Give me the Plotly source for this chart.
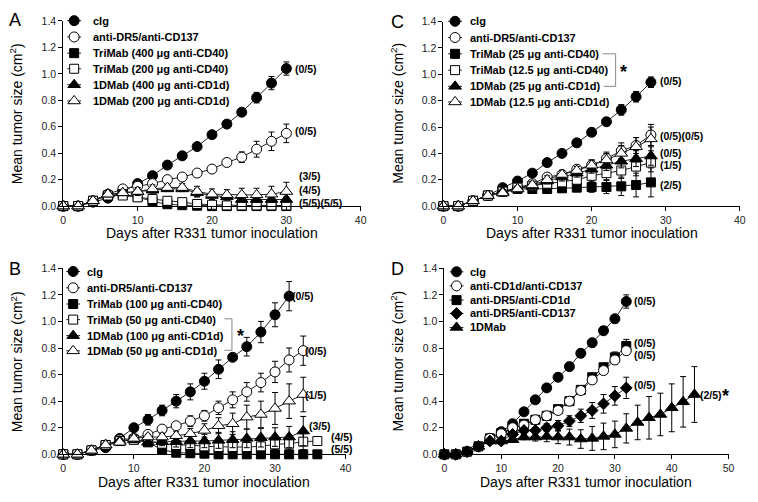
import plotly.graph_objects as go

W, H = 758, 502
FONT = "Arial, Liberation Sans, sans-serif"

# ---------------- data ----------------
# Panel A
days_A = list(range(0, 31, 2))
A_clg = [0, 0, 0.03, 0.06, 0.11, 0.17, 0.23, 0.31, 0.38, 0.45, 0.54, 0.62, 0.71, 0.82, 0.93, 1.04]
A_clg_err = [0, 0, 0.01, 0.01, 0.01, 0.02, 0.02, 0.02, 0.02, 0.02, 0.02, 0.02, 0.02, 0.04, 0.05, 0.05]
A_dr5 = [0, 0, 0.04, 0.09, 0.13, 0.15, 0.17, 0.20, 0.22, 0.25, 0.28, 0.33, 0.37, 0.43, 0.49, 0.55]
A_dr5_err = [0, 0, 0.01, 0.01, 0.01, 0.02, 0.02, 0.02, 0.02, 0.02, 0.02, 0.03, 0.04, 0.06, 0.07, 0.07]
A_tri400 = [0, 0, 0.04, 0.08, 0.09, 0.07, 0.035, 0.014, 0.007, 0.003, 0, 0, 0, 0, 0, 0]
A_tri400_err = [0, 0, 0.01, 0.01, 0.02, 0.02, 0.02, 0.01, 0.005, 0, 0, 0, 0, 0, 0, 0]
A_tri200 = [0, 0, 0.04, 0.08, 0.08, 0.066, 0.054, 0.04, 0.03, 0.016, 0.01, 0.005, 0.005, 0.005, 0.005, 0.005]
A_tri200_err = [0, 0, 0.01, 0.01, 0.02, 0.02, 0.02, 0.02, 0.01, 0.01, 0.01, 0, 0, 0, 0, 0]
A_d400 = [0, 0, 0.04, 0.09, 0.10, 0.11, 0.12, 0.13, 0.13, 0.10, 0.08, 0.07, 0.05, 0.05, 0.05, 0.05]
A_d400_err = [0, 0, 0.01, 0.01, 0.02, 0.02, 0.02, 0.02, 0.02, 0.03, 0.03, 0.02, 0.02, 0.02, 0.02, 0.02]
A_d200 = [0, 0, 0.04, 0.09, 0.10, 0.11, 0.13, 0.14, 0.14, 0.11, 0.09, 0.085, 0.085, 0.085, 0.09, 0.11]
A_d200_err = [0, 0, 0.01, 0.01, 0.02, 0.03, 0.03, 0.02, 0.03, 0.04, 0.04, 0.04, 0.05, 0.05, 0.06, 0.07]

# Panel B
days_B17 = list(range(0, 33, 2))
days_B18 = list(range(0, 35, 2))
days_B19 = list(range(0, 37, 2))
B_clg = [0, 0, 0.03, 0.05, 0.12, 0.20, 0.26, 0.33, 0.40, 0.47, 0.55, 0.64, 0.73, 0.81, 0.92, 1.05, 1.19]
B_clg_err = [0, 0, 0.01, 0.01, 0.02, 0.02, 0.04, 0.04, 0.05, 0.06, 0.06, 0.07, 0.02, 0.07, 0.08, 0.09, 0.11]
B_dr5 = [0, 0, 0.03, 0.07, 0.11, 0.12, 0.15, 0.19, 0.215, 0.25, 0.29, 0.35, 0.41, 0.47, 0.54, 0.62, 0.71, 0.78]
B_dr5_err = [0, 0, 0.01, 0.01, 0.02, 0.02, 0.02, 0.02, 0.02, 0.04, 0.04, 0.05, 0.06, 0.07, 0.07, 0.08, 0.09, 0.11]
B_tri100 = [0, 0, 0.03, 0.07, 0.10, 0.11, 0.09, 0.035, 0.012, 0.008, 0.005, 0, 0, 0, 0, 0, 0, 0, 0]
B_tri100_err = [0, 0, 0.01, 0.01, 0.02, 0.02, 0.02, 0.02, 0.01, 0.005, 0, 0, 0, 0, 0, 0, 0, 0, 0]
B_tri50 = [0, 0, 0.03, 0.07, 0.10, 0.11, 0.10, 0.08, 0.07, 0.07, 0.06, 0.055, 0.055, 0.055, 0.06, 0.075, 0.08, 0.095, 0.10]
B_tri50_err = [0, 0, 0.01, 0.01, 0.02, 0.02, 0.02, 0.03, 0.03, 0.04, 0.04, 0.04, 0.04, 0.04, 0.04, 0.04, 0.05, 0.06, 0]
B_d100 = [0, 0, 0.03, 0.07, 0.10, 0.11, 0.09, 0.095, 0.095, 0.10, 0.10, 0.105, 0.11, 0.12, 0.125, 0.13, 0.13, 0.175]
B_d100_err = [0, 0, 0.01, 0.01, 0.02, 0.02, 0.02, 0.03, 0.04, 0.05, 0.05, 0.06, 0.06, 0.07, 0.07, 0.07, 0.08, 0.11]
B_d50 = [0, 0, 0.03, 0.07, 0.09, 0.12, 0.13, 0.13, 0.14, 0.155, 0.18, 0.215, 0.23, 0.28, 0.30, 0.345, 0.40, 0.45]
B_d50_err = [0, 0, 0.01, 0.01, 0.02, 0.02, 0.02, 0.03, 0.03, 0.04, 0.05, 0.06, 0.08, 0.09, 0.10, 0.12, 0.13, 0.13]

# Panel C
days_C = list(range(0, 29, 2))
C_clg = [0, 0, 0.04, 0.08, 0.14, 0.19, 0.25, 0.33, 0.40, 0.48, 0.56, 0.64, 0.73, 0.83, 0.94]
C_clg_err = [0, 0, 0.01, 0.01, 0.02, 0.02, 0.02, 0.02, 0.02, 0.03, 0.03, 0.03, 0.04, 0.04, 0.04]
C_dr5 = [0, 0, 0.04, 0.08, 0.11, 0.14, 0.17, 0.22, 0.24, 0.28, 0.31, 0.36, 0.42, 0.46, 0.54]
C_dr5_err = [0, 0, 0.01, 0.01, 0.02, 0.02, 0.02, 0.02, 0.03, 0.03, 0.04, 0.05, 0.06, 0.06, 0.08]
C_tri25 = [0, 0, 0.04, 0.08, 0.11, 0.13, 0.13, 0.13, 0.135, 0.14, 0.145, 0.145, 0.15, 0.16, 0.18]
C_tri25_err = [0, 0, 0.01, 0.01, 0.02, 0.02, 0.02, 0.02, 0.03, 0.03, 0.04, 0.05, 0.07, 0.09, 0.11]
C_tri12 = [0, 0, 0.04, 0.08, 0.11, 0.14, 0.155, 0.17, 0.18, 0.20, 0.23, 0.25, 0.27, 0.30, 0.33]
C_tri12_err = [0, 0, 0.01, 0.01, 0.02, 0.02, 0.02, 0.03, 0.03, 0.04, 0.05, 0.05, 0.06, 0.07, 0.07]
C_d25 = [0, 0, 0.04, 0.08, 0.11, 0.13, 0.15, 0.19, 0.22, 0.25, 0.28, 0.31, 0.34, 0.36, 0.38]
C_d25_err = [0, 0, 0.01, 0.01, 0.01, 0.02, 0.02, 0.02, 0.03, 0.03, 0.03, 0.04, 0.05, 0.06, 0.07]
C_d12 = [0, 0, 0.04, 0.08, 0.10, 0.13, 0.16, 0.20, 0.24, 0.27, 0.31, 0.35, 0.40, 0.45, 0.51]
C_d12_err = [0, 0, 0.01, 0.01, 0.01, 0.02, 0.02, 0.03, 0.03, 0.03, 0.04, 0.05, 0.06, 0.07, 0.09]

# Panel D
days_D17 = list(range(0, 33, 2))
days_D23 = list(range(0, 45, 2))
D_clg = [0, 0, 0.02, 0.06, 0.12, 0.17, 0.23, 0.32, 0.41, 0.50, 0.58, 0.66, 0.76, 0.84, 0.93, 1.02, 1.15]
D_clg_err = [0, 0, 0.01, 0.01, 0.01, 0.02, 0.02, 0.02, 0.02, 0.02, 0.03, 0.03, 0.03, 0.03, 0.03, 0.03, 0.05]
D_cd = [0, 0, 0.02, 0.06, 0.12, 0.155, 0.20, 0.22, 0.26, 0.29, 0.33, 0.40, 0.48, 0.56, 0.63, 0.71, 0.78]
D_cd_err = [0, 0, 0.01, 0.01, 0.01, 0.02, 0.02, 0.02, 0.02, 0.02, 0.02, 0.03, 0.03, 0.03, 0.03, 0.03, 0.03]
D_sq = [0, 0, 0.02, 0.06, 0.12, 0.16, 0.19, 0.23, 0.26, 0.29, 0.34, 0.40, 0.485, 0.58, 0.655, 0.73, 0.815]
D_sq_err = [0, 0, 0.01, 0.01, 0.01, 0.02, 0.02, 0.02, 0.02, 0.02, 0.02, 0.03, 0.03, 0.03, 0.03, 0.04, 0.05]
D_dia = [0, 0, 0.02, 0.06, 0.10, 0.10, 0.15, 0.18, 0.18, 0.20, 0.215, 0.25, 0.29, 0.33, 0.38, 0.44, 0.50]
D_dia_err = [0, 0, 0.01, 0.01, 0.01, 0.02, 0.02, 0.02, 0.02, 0.03, 0.04, 0.04, 0.05, 0.06, 0.07, 0.07, 0.08]
D_1d = [0, 0, 0.02, 0.06, 0.10, 0.10, 0.11, 0.13, 0.13, 0.135, 0.13, 0.13, 0.115, 0.12, 0.135, 0.15,
        0.195, 0.24, 0.275, 0.30, 0.35, 0.395, 0.45]
D_1d_err = [0, 0, 0.01, 0.01, 0.01, 0.02, 0.02, 0.02, 0.03, 0.04, 0.05, 0.06, 0.07, 0.09, 0.10, 0.10,
            0.11, 0.13, 0.16, 0.16, 0.18, 0.19, 0.21]

# legend labels
leg_A = ["cIg", "anti-DR5/anti-CD137", "TriMab (400 μg anti-CD40)", "TriMab (200 μg anti-CD40)",
         "1DMab (400 μg anti-CD1d)", "1DMab (200 μg anti-CD1d)"]
leg_B = ["cIg", "anti-DR5/anti-CD137", "TriMab (100 μg anti-CD40)", "TriMab (50 μg anti-CD40)",
         "1DMab (100 μg anti-CD1d)", "1DMab (50 μg anti-CD1d)"]
leg_C = ["cIg", "anti-DR5/anti-CD137", "TriMab (25 μg anti-CD40)", "TriMab (12.5 μg anti-CD40)",
         "1DMab (25 μg anti-CD1d)", "1DMab (12.5 μg anti-CD1d)"]
leg_D = ["cIg", "anti-CD1d/anti-CD137", "anti-DR5/anti-CD1d", "anti-DR5/anti-CD137", "1DMab"]

x_ticks_40 = [0, 10, 20, 30, 40]
x_ticks_50 = [0, 10, 20, 30, 40, 50]
y_ticks = [0, 0.2, 0.4, 0.6, 0.8, 1.0, 1.2, 1.4]

# ---------------- styles ----------------
STY = {
    "fc": ("circle", "black", 10),
    "oc": ("circle", "white", 10),
    "fs": ("square", "black", 9),
    "os": ("square", "white", 9),
    "ft": ("triangle-up", "black", 11),
    "ot": ("triangle-up", "white", 11),
    "fd": ("diamond", "black", 9),
}
LINEC = "#222222"

fig = go.Figure()


def add_series(xa, ya, days, vals, errs, sty):
    sym, fill, size = STY[sty]
    fig.add_trace(go.Scatter(
        x=days, y=vals, xaxis=xa, yaxis=ya, mode="lines+markers",
        line=dict(color=LINEC, width=1),
        marker=dict(symbol=sym, color=fill, size=size, line=dict(color="black", width=1)),
        error_y=dict(type="data", array=errs, visible=True, color="black", thickness=1, width=3),
        cliponaxis=False, showlegend=False, hoverinfo="skip"))


for v, e, s in [(A_clg, A_clg_err, "fc"), (A_dr5, A_dr5_err, "oc"), (A_tri400, A_tri400_err, "fs"),
                (A_tri200, A_tri200_err, "os"), (A_d400, A_d400_err, "ft"), (A_d200, A_d200_err, "ot")]:
    add_series("x", "y", days_A, v, e, s)
for d, v, e, s in [(days_B17, B_clg, B_clg_err, "fc"), (days_B18, B_dr5, B_dr5_err, "oc"),
                   (days_B19, B_tri100, B_tri100_err, "fs"), (days_B19, B_tri50, B_tri50_err, "os"),
                   (days_B18, B_d100, B_d100_err, "ft"), (days_B18, B_d50, B_d50_err, "ot")]:
    add_series("x2", "y2", d, v, e, s)
for v, e, s in [(C_clg, C_clg_err, "fc"), (C_dr5, C_dr5_err, "oc"), (C_tri25, C_tri25_err, "fs"),
                (C_tri12, C_tri12_err, "os"), (C_d25, C_d25_err, "ft"), (C_d12, C_d12_err, "ot")]:
    add_series("x3", "y3", days_C, v, e, s)
for d, v, e, s in [(days_D17, D_clg, D_clg_err, "fc"), (days_D17, D_sq, D_sq_err, "fs"),
                   (days_D17, D_cd, D_cd_err, "oc"), (days_D17, D_dia, D_dia_err, "fd"),
                   (days_D23, D_1d, D_1d_err, "ft")]:
    add_series("x4", "y4", d, v, e, s)

# ---------------- axes ----------------
panels = [
    ("xaxis", "yaxis", "y", "x", (61, 362), (205, 15.3), 40, x_ticks_40),
    ("xaxis2", "yaxis2", "y2", "x2", (61, 346.7), (459.3, 268.7), 40, x_ticks_40),
    ("xaxis3", "yaxis3", "y3", "x3", (445.7, 745.7), (205, 16), 40, x_ticks_40),
    ("xaxis4", "yaxis4", "y4", "x4", (446.7, 734.3), (459.3, 268.7), 50, x_ticks_50),
]
tickfont = dict(family=FONT, size=10.5, color="#222")
layout_axes = {}
for xk, yk, yref, xref, (x0, x1), (y0, y1), xmax, xt in panels:
    layout_axes[xk] = dict(domain=[x0 / W, x1 / W], range=[0, xmax], anchor=yref,
                           showline=True, linecolor="black", linewidth=1, ticks="outside",
                           ticklen=4, tickwidth=1, tickcolor="black", tickvals=xt,
                           showgrid=False, zeroline=False, tickfont=tickfont, fixedrange=True)
    layout_axes[yk] = dict(domain=[1 - y0 / H, 1 - y1 / H], range=[0, 1.4], anchor=xref,
                           showline=True, linecolor="black", linewidth=1, ticks="outside",
                           ticklen=4, tickwidth=1, tickcolor="black", tickvals=y_ticks,
                           tickformat=".1f", showgrid=False, zeroline=False, tickfont=tickfont,
                           fixedrange=True)
# pixel overlay axes for legends / titles
layout_axes["xaxis5"] = dict(domain=[0, 1], range=[0, W], visible=False, anchor="y5", fixedrange=True)
layout_axes["yaxis5"] = dict(domain=[0, 1], range=[H, 0], visible=False, anchor="x5", fixedrange=True)

annotations = []
shapes = []


def txt(x, y, s, size=11, bold=True, xanchor="left", angle=0, xref="x5", yref="y5", yanchor="middle"):
    annotations.append(dict(x=x, y=y, xref=xref, yref=yref, text=(f"<b>{s}</b>" if bold else s),
                            showarrow=False, xanchor=xanchor, yanchor=yanchor, textangle=angle,
                            font=dict(family=FONT, size=size, color="black")))


def legend(mx, tx, rows, labels, styles):
    for ry, lab, sty in zip(rows, labels, styles):
        sym, fill, size = STY[sty]
        fig.add_trace(go.Scatter(x=[mx - 7, mx + 7], y=[ry, ry], xaxis="x5", yaxis="y5", mode="lines",
                                 line=dict(color=LINEC, width=1), showlegend=False, hoverinfo="skip"))
        fig.add_trace(go.Scatter(x=[mx], y=[ry], xaxis="x5", yaxis="y5", mode="markers",
                                 marker=dict(symbol=sym, color=fill, size=size,
                                             line=dict(color="black", width=1)),
                                 showlegend=False, hoverinfo="skip"))
        txt(tx, ry, lab, size=11)


legend(72, 89, [15, 31.7, 48.3, 64.3, 80.7, 97.3], leg_A, ["fc", "oc", "fs", "os", "ft", "ot"])
legend(71, 83, [272, 288.7, 305.3, 321.3, 337.7, 353.3], leg_B, ["fc", "oc", "fs", "os", "ft", "ot"])
legend(457.5, 471, [15.7, 32.3, 49, 65.7, 82.3, 98.3], leg_C, ["fc", "oc", "fs", "os", "ft", "ot"])
legend(459, 471, [272.3, 286.7, 301.3, 315, 329.3], leg_D, ["fc", "oc", "fs", "fd", "ft"])

# brackets + asterisks
BR = dict(color="#888888", width=1)
shapes.append(dict(type="path", xref="x5", yref="y5",
                   path="M 224,320.5 L 231.7,320.5 L 231.7,352.7 L 224,352.7", line=BR))
txt(240, 338, "*", size=18, xanchor="center")
shapes.append(dict(type="path", xref="x5", yref="y5", path="M 607,49 L 620,49 L 620,82.3 L 608,82.3", line=BR))
txt(628, 68, "*", size=18, xanchor="center")

# panel letters
txt(12.5, 14, "A", size=18, bold=False, xanchor="center")
txt(12.5, 269, "B", size=18, bold=False, xanchor="center")
txt(399, 16, "C", size=18, bold=False, xanchor="center")
txt(399, 269, "D", size=18, bold=False, xanchor="center")

# axis titles
XT = "Days after R331 tumor inoculation"
YT = "Mean tumor size (cm<sup>2</sup>)"
txt(211.5, 233, XT, size=14, bold=False, xanchor="center")
txt(203.9, 488, XT, size=14, bold=False, xanchor="center")
txt(595.7, 233, XT, size=14, bold=False, xanchor="center")
txt(590.5, 488, XT, size=14, bold=False, xanchor="center")
txt(14, 110, YT, size=14, bold=False, xanchor="center", angle=-90)
txt(14, 364, YT, size=14, bold=False, xanchor="center", angle=-90)
txt(399, 110, YT, size=14, bold=False, xanchor="center", angle=-90)
txt(399, 364, YT, size=14, bold=False, xanchor="center", angle=-90)

# survival labels (data coordinates)
for xr, yr, x, y, s in [
    ("x", "y", 30.9, 1.04, "(0/5)"), ("x", "y", 30.9, 0.565, "(0/5)"), ("x", "y", 31.45, 0.225, "(3/5)"),
    ("x", "y", 31.45, 0.12, "(4/5)"), ("x", "y", 31.45, 0.025, "(5/5)(5/5)"),
    ("x2", "y2", 32.1, 1.19, "(0/5)"), ("x2", "y2", 34.0, 0.78, "(0/5)"), ("x2", "y2", 34.0, 0.45, "(1/5)"),
    ("x2", "y2", 34.6, 0.215, "(3/5)"), ("x2", "y2", 37.6, 0.13, "(4/5)"), ("x2", "y2", 37.7, 0.04, "(5/5)"),
    ("x3", "y3", 29.0, 0.95, "(0/5)"), ("x3", "y3", 29.0, 0.535, "(0/5)(0/5)"), ("x3", "y3", 29.0, 0.40, "(0/5)"),
    ("x3", "y3", 29.0, 0.31, "(1/5)"), ("x3", "y3", 29.0, 0.16, "(2/5)"),
    ("x4", "y4", 33.0, 1.15, "(0/5)"), ("x4", "y4", 33.0, 0.835, "(0/5)"), ("x4", "y4", 33.0, 0.75, "(0/5)"),
    ("x4", "y4", 33.0, 0.525, "(0/5)"), ("x4", "y4", 44.6, 0.45, "(2/5)"),
]:
    txt(x, y, s, size=10.5, xref=xr, yref=yr)
txt(731, 399.5, "*", size=18, xanchor="center")

fig.update_layout(width=W, height=H, margin=dict(l=0, r=0, t=0, b=0),
                  paper_bgcolor="white", plot_bgcolor="rgba(0,0,0,0)",
                  annotations=annotations, shapes=shapes, showlegend=False, **layout_axes)
fig.write_html("out.html", config={"displayModeBar": False},
               post_script="document.body.style.margin='0';document.body.style.overflow='hidden';")
